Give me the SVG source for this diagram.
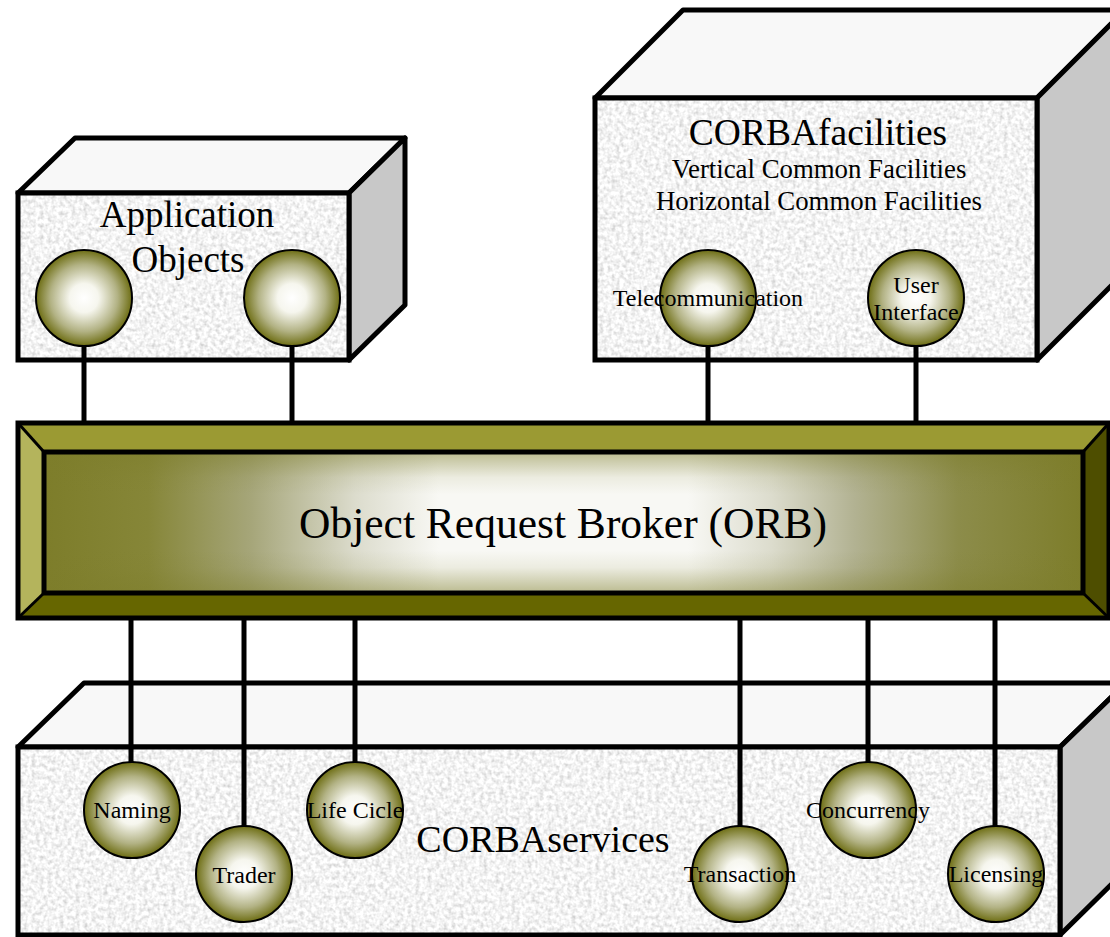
<svg xmlns="http://www.w3.org/2000/svg" width="1110" height="937" viewBox="0 0 1110 937">
<defs>
<filter id="granite" x="0" y="0" width="1" height="1" filterUnits="objectBoundingBox">
<feTurbulence type="fractalNoise" baseFrequency="0.25" numOctaves="3" seed="3" result="n"/>
<feColorMatrix in="n" type="matrix" values="0.7 0 0 0 0.55  0.7 0 0 0 0.55  0.7 0 0 0 0.55  0 0 0 0 1" result="g"/>
<feComposite in="g" in2="SourceGraphic" operator="in"/>
</filter>
<radialGradient id="ball" cx="0.5" cy="0.5" r="0.5">
<stop offset="0" stop-color="#ffffff"/>
<stop offset="0.3" stop-color="#f6f6ee"/>
<stop offset="0.7" stop-color="#b2b284"/>
<stop offset="1" stop-color="#6e6e14"/>
</radialGradient>
<linearGradient id="orbH" x1="0" y1="0" x2="1" y2="0">
<stop offset="0" stop-color="#7d7d2a"/>
<stop offset="0.1" stop-color="#868638"/>
<stop offset="0.2" stop-color="#a6a67a"/>
<stop offset="0.3" stop-color="#dcdccd"/>
<stop offset="0.38" stop-color="#f8f8f4"/>
<stop offset="0.62" stop-color="#f8f8f4"/>
<stop offset="0.7" stop-color="#dcdccd"/>
<stop offset="0.78" stop-color="#b2b292"/>
<stop offset="0.88" stop-color="#8c8c4a"/>
<stop offset="1" stop-color="#7d7d2a"/>
</linearGradient>
<linearGradient id="orbV" x1="0" y1="0" x2="0" y2="1">
<stop offset="0" stop-color="#7d7d2a" stop-opacity="0.5"/>
<stop offset="0.18" stop-color="#7d7d2a" stop-opacity="0.1"/>
<stop offset="0.3" stop-color="#7d7d2a" stop-opacity="0"/>
<stop offset="0.7" stop-color="#7d7d2a" stop-opacity="0"/>
<stop offset="0.82" stop-color="#7d7d2a" stop-opacity="0.1"/>
<stop offset="1" stop-color="#7d7d2a" stop-opacity="0.5"/>
</linearGradient>
<style>
.edge{stroke:#000;stroke-width:5;stroke-linejoin:round}
.top{fill:#f8f8f8}
.side{fill:#c8c8c8}
.tex{fill:#ebebeb;filter:url(#granite)}
.wire{stroke:#000;stroke-width:5;fill:none}
.ball{fill:url(#ball);stroke:#000;stroke-width:2}
.t{font-family:"Liberation Serif","Times New Roman",serif;fill:#000;text-anchor:middle}
.s{font-size:24px}
</style>
</defs>

<g id="application-objects">
<polygon class="top edge" points="18,193 75,138 405,138 349,193"/>
<polygon class="side edge" points="349,193 405,138 405,305 349,360"/>
<rect class="tex" x="18" y="193" width="331" height="167"/>
<rect x="18" y="193" width="331" height="167" fill="none" class="edge" style="stroke-linejoin:miter"/>
<text class="t" x="187" y="227" font-size="37">Application</text>
<text class="t" x="188" y="272" font-size="37">Objects</text>
</g>

<g id="corba-facilities">
<polygon class="top edge" points="595,98 683,10 1125,10 1037,98"/>
<polygon class="side edge" points="1037,98 1125,10 1125,272 1037,360"/>
<rect class="tex" x="595" y="98" width="442" height="262"/>
<rect x="595" y="98" width="442" height="262" fill="none" class="edge" style="stroke-linejoin:miter"/>
<text class="t" x="818" y="145" font-size="37.5">CORBAfacilities</text>
<text class="t" x="819" y="178" font-size="26.8">Vertical Common Facilities</text>
<text class="t" x="819" y="210" font-size="26.8">Horizontal Common Facilities</text>
</g>

<g id="corba-services">
<polygon class="top edge" points="18,747 84,683 1126,683 1060,747"/>
<polygon class="side edge" points="1060,747 1126,683 1126,870 1060,935"/>
<rect class="tex" x="18" y="747" width="1042" height="188"/>
<rect x="18" y="747" width="1042" height="188" fill="none" class="edge" style="stroke-linejoin:miter"/>
<text class="t" x="543" y="852" font-size="38">CORBAservices</text>
</g>

<g id="connectors">
<line class="wire" x1="84" y1="346" x2="84" y2="423"/>
<line class="wire" x1="292" y1="346" x2="292" y2="423"/>
<line class="wire" x1="708" y1="346" x2="708" y2="423"/>
<line class="wire" x1="916" y1="346" x2="916" y2="423"/>
<line class="wire" x1="131" y1="618" x2="131" y2="762"/>
<line class="wire" x1="244" y1="618" x2="244" y2="826"/>
<line class="wire" x1="355" y1="618" x2="355" y2="762"/>
<line class="wire" x1="740" y1="618" x2="740" y2="826"/>
<line class="wire" x1="868" y1="618" x2="868" y2="762"/>
<line class="wire" x1="995" y1="618" x2="995" y2="826"/>
</g>

<g id="orb">
<polygon fill="#9b9a33" points="18,423 1109,423 1083,452 44,452"/>
<polygon fill="#b4b45c" points="18,423 44,452 44,593 18,618"/>
<polygon fill="#4e4e00" points="1109,423 1109,618 1083,593 1083,452"/>
<polygon fill="#666600" points="18,618 44,593 1083,593 1109,618"/>
<rect x="44" y="452" width="1039" height="141" fill="url(#orbH)"/>
<rect x="44" y="452" width="1039" height="141" fill="url(#orbV)"/>
<g stroke="#000" stroke-width="3">
<line x1="18" y1="423" x2="44" y2="452"/>
<line x1="1109" y1="423" x2="1083" y2="452"/>
<line x1="18" y1="618" x2="44" y2="593"/>
<line x1="1109" y1="618" x2="1083" y2="593"/>
</g>
<rect x="44" y="452" width="1039" height="141" fill="none" class="edge"/>
<rect x="18" y="423" width="1091" height="195" fill="none" class="edge" style="stroke-linejoin:miter"/>
<text class="t" x="563" y="538" font-size="43.5">Object Request Broker (ORB)</text>
</g>

<g id="app-object-1"><circle class="ball" cx="84" cy="298" r="48"/></g>
<g id="app-object-2"><circle class="ball" cx="292" cy="298" r="48"/></g>
<g id="telecommunication"><circle class="ball" cx="708" cy="298" r="48"/><text class="t s" x="708" y="306">Telecommunication</text></g>
<g id="user-interface"><circle class="ball" cx="916" cy="298" r="48"/><text class="t s" x="916" y="293">User</text><text class="t s" x="916" y="320">Interface</text></g>
<g id="naming"><circle class="ball" cx="132" cy="810" r="48"/><text class="t s" x="132" y="818">Naming</text></g>
<g id="trader"><circle class="ball" cx="244" cy="874" r="48"/><text class="t s" x="244" y="883">Trader</text></g>
<g id="life-cicle"><circle class="ball" cx="355" cy="810" r="48"/><text class="t s" x="355" y="818">Life Cicle</text></g>
<g id="transaction"><circle class="ball" cx="740" cy="874" r="48"/><text class="t s" x="740" y="882">Transaction</text></g>
<g id="concurrency"><circle class="ball" cx="868" cy="810" r="48"/><text class="t s" x="868" y="818">Concurrency</text></g>
<g id="licensing"><circle class="ball" cx="996" cy="874" r="48"/><text class="t s" x="996" y="882">Licensing</text></g>
</svg>
